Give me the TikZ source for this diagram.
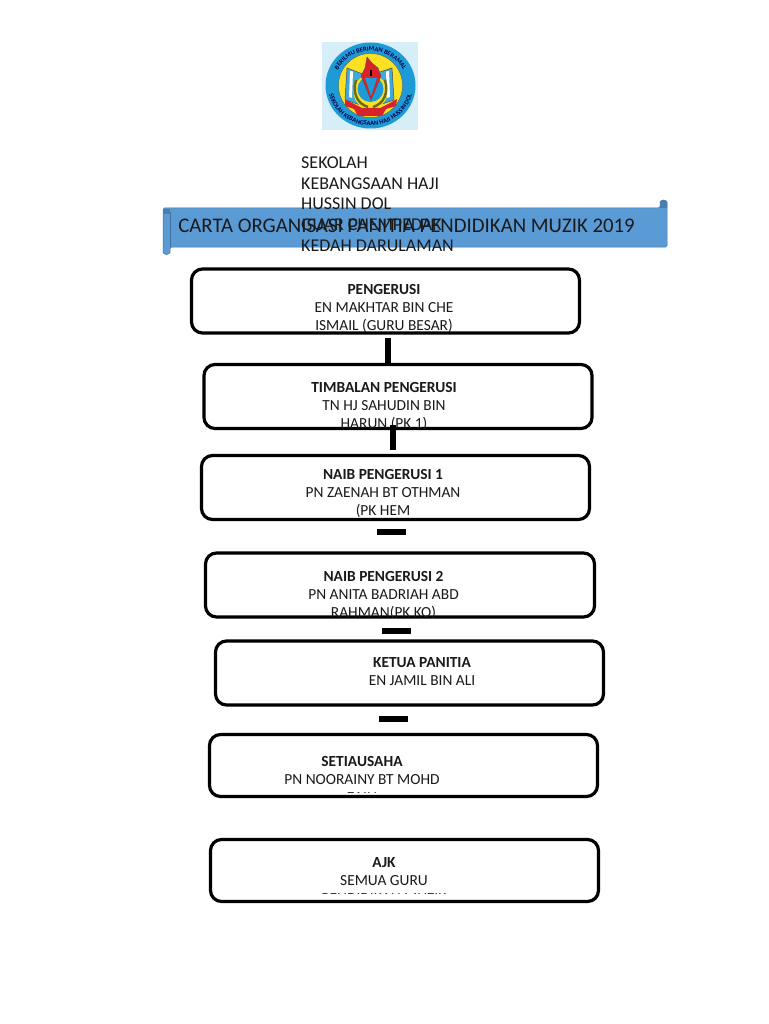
\documentclass[tikz,border=0pt]{standalone}
\usepackage{fontspec}
\setmainfont{Carlito}
\usetikzlibrary{decorations.text}
\definecolor{bannerblue}{HTML}{5B9BD5}
\definecolor{banneredge}{HTML}{41719C}
\definecolor{bannerroll}{HTML}{4A7EAE}
\definecolor{logobg}{HTML}{D6EEF8}
\definecolor{logoblue}{HTML}{1E9AD6}
\definecolor{logoyellow}{HTML}{FBE122}
\definecolor{logored}{HTML}{D8232A}
\definecolor{logoolive}{HTML}{6B6A1E}
\definecolor{textblack}{HTML}{1A1A1A}
\tikzset{
  orgbox/.style={draw=black,line width=3.2pt,rounded corners=11pt,fill=white,
    inner sep=0pt,outer sep=0pt,minimum width=388pt,minimum height=64pt},
  boxtext/.style={align=center,inner sep=0pt,text=textblack,font=\fontsize{15.4}{18}\selectfont},
  link/.style={line width=6pt,black},
  schooltext/.style={align=left,inner sep=0pt,anchor=north west,text=textblack,font=\fontsize{18}{20.8}\selectfont},
  logotext/.style={decorate,decoration={text along path,text align=center,
    text={|\fontsize{6.4}{7}\selectfont\bfseries\color{black!70!blue}|#1}}}
}
\begin{document}
\begin{tikzpicture}[x=1pt,y=-1pt]
\useasboundingbox (0,0) rectangle (768,1024);
% logo
\fill[logobg] (322,42) rectangle (418,130);
\fill[logoblue] (370.5,85.5) ellipse (45 and 43);
\fill[logoyellow,draw=black!70,line width=0.3pt] (370.5,85.5) circle (32);
% books
\fill[logoblue!85,draw=black!70,line width=0.5pt] (347,68) -- (368,76) -- (392,68) -- (394,100) -- (370,108) -- (345,100) -- cycle;
\fill[white] (350,71) -- (353,71.5) -- (352,98) -- (349,97) -- cycle;
\fill[white] (389,71) -- (386,71.5) -- (387,98) -- (390,97) -- cycle;
\fill[logoyellow] (370.5,92) circle (17);
\fill[logoblue] (370.5,89) circle (13);
% wreath
\draw[logoolive,line width=2.4pt] (356,80) .. controls (352,94) and (358,104) .. (368,107);
\draw[logoolive,line width=2.4pt] (385,80) .. controls (389,94) and (383,104) .. (373,107);
% gear
\fill[logored] (345,99) -- (352,103) -- (362,108) -- (380,108) -- (390,103) -- (397,99) -- (396,106) -- (386,109) -- (382,116) -- (358,116) -- (354,109) -- (345,106) -- cycle;
% torch
\fill[logored,draw=black!70,line width=0.3pt] (371,100) -- (361,76) -- (365,68) -- (367,57) -- (372,63) -- (378,68) -- (381,76) -- cycle;
\fill[logoblue] (371,96) -- (365,78) -- (377,78) -- cycle;
\fill[black] (369.5,70) rectangle (371.5,76);
\path[logotext={BERILMU BERIMAN BERAMAL}] (334,85.5) arc[start angle=180,end angle=360,x radius=36.5,y radius=34.5];
\path[logotext={SEKOLAH KEBANGSAAN HAJI HUSSIN DOL}] (328,85.5) arc[start angle=180,end angle=0,x radius=42.5,y radius=40];
% banner
\fill[bannerblue,draw=banneredge,line width=0.5pt,rounded corners=1.5pt] (163,208) -- (660,208) -- (660,203.5) arc[start angle=180,end angle=360,radius=3.5] -- (667,247) -- (170,247) -- (170,251) arc[start angle=0,end angle=180,radius=3.5] -- cycle;
\fill[bannerroll] (163,209) rectangle (170,214);
\draw[banneredge,line width=0.5pt] (170,212) -- (170,247);
\fill[bannerroll] (660,203.5) arc[start angle=180,end angle=360,radius=3.5] -- (667,208) -- (660,208) -- cycle;
% title and school name
\node (schoolname) [schooltext] at (301,156.5) {SEKOLAH\\KEBANGSAAN HAJI\\HUSSIN DOL\\GUAR CHEMPEDAK\\KEDAH DARULAMAN};
\node (title) [inner sep=0pt,text=textblack,font=\fontsize{20.8}{24}\selectfont] at (406.5,226) {CARTA ORGANISASI PANITIA PENDIDIKAN MUZIK 2019};
% boxes
\node (pengerusi) [orgbox] at (385.5,301) {};
\node (timbalan) [orgbox] at (398,396.5) {};
\node (naibsatu) [orgbox] at (395.5,487.5) {};
\node (naibdua) [orgbox,minimum width=389pt] at (400,585) {};
\node (ketua) [orgbox] at (409.5,673) {};
\node (setiausaha) [orgbox,minimum height=62pt] at (403.5,765.5) {};
\node (ajk) [orgbox,minimum height=62pt] at (404.5,870.5) {};
% box texts, cut off at the bottom edge of their box
\begin{scope}
\clip (pengerusi.south west) rectangle (pengerusi.north east);
\node (pengerusitext) [boxtext] at (384,309) {\textbf{PENGERUSI}\\EN MAKHTAR BIN CHE\\ISMAIL (GURU BESAR)};
\end{scope}
\begin{scope}
\clip (timbalan.south west) rectangle (timbalan.north east);
\node (timbalantext) [boxtext] at (384,407) {\textbf{TIMBALAN PENGERUSI}\\TN HJ SAHUDIN BIN\\HARUN (PK 1)};
\end{scope}
\node (naibsatutext) [boxtext] at (383,494) {\textbf{NAIB PENGERUSI 1}\\PN ZAENAH BT OTHMAN\\(PK HEM};
\begin{scope}
\clip (naibdua.south west) rectangle (naibdua.north east);
\node (naibduatext) [boxtext] at (383.5,596) {\textbf{NAIB PENGERUSI 2}\\PN ANITA BADRIAH ABD\\RAHMAN(PK KO)};
\end{scope}
\node (ketuatext) [boxtext] at (422,671.5) {\textbf{KETUA PANITIA}\\EN JAMIL BIN ALI};
\begin{scope}
\clip ([yshift=4.5pt]setiausaha.south west) rectangle (setiausaha.north east);
\node (setiausahatext) [boxtext] at (362,779) {\textbf{SETIAUSAHA}\\PN NOORAINY BT MOHD\\ZAIN};
\end{scope}
\begin{scope}
\clip ([yshift=8pt]ajk.south west) rectangle (ajk.north east);
\node (ajktext) [boxtext] at (384,881) {\textbf{AJK}\\SEMUA GURU\\PENDIDIKAN MUZIK};
\end{scope}
% connectors
\coordinate (p1) at (387.5,338);
\coordinate (t1) at (392.5,425);
\coordinate (t2) at (392.5,450);
\coordinate (n1) at (377,532);
\coordinate (n2) at (405.5,532);
\coordinate (d1) at (382,631);
\coordinate (d2) at (410.5,631);
\coordinate (k1) at (379,718.5);
\coordinate (k2) at (407.5,718.5);
\draw[link] (p1) -- (p1 |- timbalan.north);
\draw[link] (t1) -- (t2);
\draw[link] (n1) -- (n2);
\draw[link] (d1) -- (d2);
\draw[link] (k1) -- (k2);
\end{tikzpicture}
\end{document}
